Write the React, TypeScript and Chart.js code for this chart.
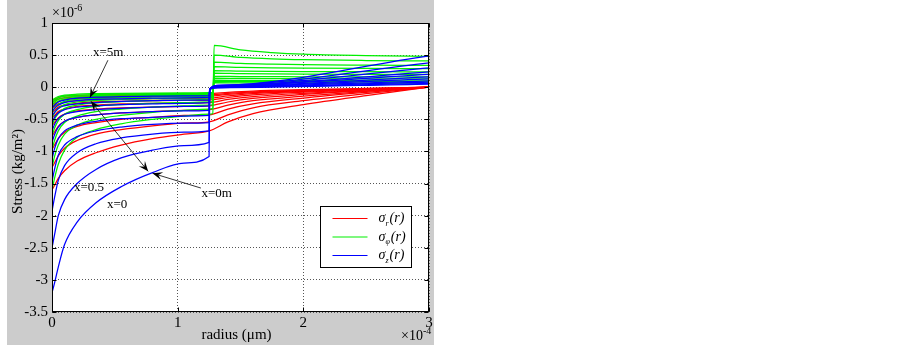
import React, { useEffect, useRef } from 'react';
import { Chart, registerables } from 'chart.js';
Chart.register(...registerables);

// radius in units of 1e-4, stress in units of 1e-6
const innerR = [0, 0.02, 0.05, 0.1, 0.2, 0.35, 0.55, 0.8, 1.05, 1.25];
const redOuterR = [1.4, 1.6, 2.0, 2.5, 3.0];
const greenOuterR = [1.28, 1.29, 1.5, 1.75, 2.0, 2.5, 3.0];
const blueOuterR = [1.255, 1.32, 3.0];

const positionsX = ['0', '0.5', '1', '1.5', '2', '2.5', '3', '3.5', '4', '4.5', '5'];

const redInner = [
  [-1.6, -1.53, -1.42, -1.3, -1.15, -1.02, -0.9, -0.8, -0.73, -0.68],
  [-1.25, -1.18, -1.07, -0.95, -0.83, -0.73, -0.66, -0.6, -0.56, -0.54],
  [-0.97, -0.9, -0.8, -0.7, -0.61, -0.55, -0.5, -0.47, -0.44, -0.43],
  [-0.76, -0.7, -0.61, -0.53, -0.47, -0.43, -0.4, -0.38, -0.36, -0.35],
  [-0.6, -0.55, -0.48, -0.42, -0.37, -0.34, -0.32, -0.31, -0.3, -0.29],
  [-0.48, -0.44, -0.38, -0.34, -0.3, -0.28, -0.26, -0.25, -0.245, -0.24],
  [-0.4, -0.36, -0.31, -0.28, -0.25, -0.23, -0.22, -0.21, -0.205, -0.2],
  [-0.33, -0.3, -0.26, -0.23, -0.21, -0.195, -0.185, -0.178, -0.172, -0.17],
  [-0.28, -0.25, -0.22, -0.19, -0.175, -0.163, -0.155, -0.148, -0.143, -0.14],
  [-0.24, -0.21, -0.185, -0.165, -0.15, -0.14, -0.132, -0.126, -0.122, -0.12],
  [-0.21, -0.185, -0.16, -0.14, -0.127, -0.118, -0.112, -0.107, -0.103, -0.1],
];
const redOuter = [
  [-0.54, -0.41, -0.27, -0.13, 0],
  [-0.43, -0.32, -0.21, -0.1, 0],
  [-0.34, -0.26, -0.17, -0.08, 0],
  [-0.28, -0.21, -0.14, -0.065, 0],
  [-0.23, -0.175, -0.113, -0.055, 0],
  [-0.19, -0.145, -0.094, -0.046, 0],
  [-0.16, -0.12, -0.078, -0.038, 0],
  [-0.136, -0.1, -0.066, -0.032, 0],
  [-0.112, -0.084, -0.055, -0.027, 0],
  [-0.096, -0.072, -0.047, -0.023, 0],
  [-0.08, -0.06, -0.039, -0.019, 0],
];

const greenInner = [
  [-1.6, -1.42, -1.2, -0.98, -0.78, -0.66, -0.57, -0.5, -0.45, -0.42],
  [-1.25, -1.08, -0.9, -0.73, -0.59, -0.5, -0.44, -0.39, -0.36, -0.34],
  [-0.97, -0.83, -0.68, -0.55, -0.45, -0.38, -0.34, -0.31, -0.29, -0.28],
  [-0.76, -0.64, -0.52, -0.42, -0.35, -0.3, -0.27, -0.25, -0.24, -0.23],
  [-0.6, -0.5, -0.41, -0.33, -0.28, -0.245, -0.225, -0.21, -0.2, -0.19],
  [-0.48, -0.4, -0.33, -0.27, -0.23, -0.205, -0.19, -0.178, -0.17, -0.165],
  [-0.4, -0.33, -0.27, -0.22, -0.19, -0.172, -0.16, -0.152, -0.147, -0.143],
  [-0.33, -0.27, -0.22, -0.185, -0.16, -0.147, -0.138, -0.132, -0.128, -0.125],
  [-0.28, -0.23, -0.19, -0.16, -0.14, -0.128, -0.12, -0.115, -0.112, -0.11],
  [-0.24, -0.2, -0.165, -0.14, -0.123, -0.113, -0.106, -0.102, -0.099, -0.097],
  [-0.21, -0.175, -0.145, -0.123, -0.108, -0.1, -0.094, -0.09, -0.088, -0.086],
];
const greenOuter = [
  [-0.41, 0.65, 0.582, 0.54, 0.514, 0.492, 0.48],
  [-0.33, 0.5, 0.464, 0.441, 0.428, 0.416, 0.41],
  [-0.27, 0.39, 0.37, 0.358, 0.35, 0.344, 0.34],
  [-0.22, 0.32, 0.308, 0.3, 0.296, 0.292, 0.29],
  [-0.18, 0.26, 0.252, 0.247, 0.244, 0.241, 0.24],
  [-0.155, 0.22, 0.212, 0.207, 0.204, 0.201, 0.2],
  [-0.135, 0.17, 0.166, 0.164, 0.162, 0.161, 0.16],
  [-0.115, 0.14, 0.136, 0.134, 0.132, 0.131, 0.13],
  [-0.1, 0.11, 0.106, 0.104, 0.102, 0.101, 0.1],
  [-0.09, 0.09, 0.088, 0.087, 0.086, 0.0855, 0.085],
  [-0.08, 0.07, 0.068, 0.067, 0.066, 0.0655, 0.065],
];

const blueInner = [
  [-3.2, -3.05, -2.8, -2.45, -2.1, -1.8, -1.55, -1.33, -1.18, -1.08],
  [-2.5, -2.3, -2.0, -1.75, -1.5, -1.28, -1.1, -0.98, -0.91, -0.86],
  [-1.93, -1.72, -1.45, -1.22, -1.02, -0.88, -0.79, -0.73, -0.7, -0.68],
  [-1.47, -1.28, -1.06, -0.9, -0.77, -0.68, -0.62, -0.58, -0.56, -0.55],
  [-1.12, -0.96, -0.8, -0.68, -0.59, -0.53, -0.49, -0.47, -0.45, -0.44],
  [-0.86, -0.74, -0.62, -0.53, -0.47, -0.43, -0.4, -0.38, -0.37, -0.36],
  [-0.68, -0.58, -0.49, -0.42, -0.38, -0.35, -0.33, -0.31, -0.3, -0.29],
  [-0.55, -0.47, -0.4, -0.35, -0.31, -0.29, -0.27, -0.26, -0.25, -0.24],
  [-0.45, -0.39, -0.33, -0.29, -0.26, -0.24, -0.22, -0.21, -0.2, -0.2],
  [-0.38, -0.33, -0.28, -0.24, -0.21, -0.19, -0.18, -0.17, -0.165, -0.16],
  [-0.32, -0.28, -0.23, -0.2, -0.17, -0.155, -0.145, -0.14, -0.135, -0.13],
];
const blueOuter = [
  [-0.03, 0.03, 0.49],
  [-0.03, 0.03, 0.38],
  [-0.03, 0.025, 0.3],
  [-0.03, 0.02, 0.24],
  [-0.03, 0.02, 0.2],
  [-0.03, 0.015, 0.16],
  [-0.03, 0.01, 0.13],
  [-0.03, 0.005, 0.1],
  [-0.03, 0, 0.08],
  [-0.03, -0.005, 0.06],
  [-0.03, -0.01, 0.05],
];

const xTickValues = [0, 1, 2, 3];
const xTickLabels = ['0', '1', '2', '3'];
const yTickValues = [1, 0.5, 0, -0.5, -1, -1.5, -2, -2.5, -3, -3.5];
const yTickLabels = ['1', '0.5', '0', '-0.5', '-1', '-1.5', '-2', '-2.5', '-3', '-3.5'];

const RED = '#ff0000';
const GREEN = '#00f000';
const BLUE = '#0000ff';
const FONT = "'Liberation Serif', 'Times New Roman', serif";

// annotation anchors in data units (r ×1e-4, stress ×1e-6)
const notes = [
  { text: 'x=5m', r: 0.326, v: 0.545 },
  { text: 'x=0m', r: 1.19, v: -1.66 },
  { text: 'x=0.5', r: 0.175, v: -1.56 },
  { text: 'x=0', r: 0.437, v: -1.82 },
];
const arrows = [
  { r1: 0.445, v1: 0.42, r2: 0.302, v2: -0.16, both: false },
  { r1: 0.765, v1: -1.31, r2: 0.31, v2: -0.22, both: true },
  { r1: 1.185, v1: -1.57, r2: 0.8, v2: -1.34, both: false },
];
const legendItems = [
  { color: RED, sub: 'r' },
  { color: GREEN, sub: 'φ' },
  { color: BLUE, sub: 'z' },
];

function build(inner: number[][], outerR: number[], outer: number[][]) {
  return inner.map((vals, i) => [
    ...innerR.map((r, k) => ({ x: r, y: vals[k] })),
    ...outerR.map((r, k) => ({ x: r, y: outer[i][k] })),
  ]);
}

function drawArrowHead(ctx: CanvasRenderingContext2D, x1: number, y1: number, x2: number, y2: number) {
  const a = Math.atan2(y2 - y1, x2 - x1);
  const L = 10, W = 4;
  const c = Math.cos(a), s = Math.sin(a);
  ctx.beginPath();
  ctx.moveTo(x2, y2);
  ctx.lineTo(x2 - L * c + W * s, y2 - L * s - W * c);
  ctx.lineTo(x2 - 0.6 * L * c, y2 - 0.6 * L * s);
  ctx.lineTo(x2 - L * c - W * s, y2 - L * s + W * c);
  ctx.closePath();
  ctx.fill();
}

const decor = {
  id: 'decor',
  beforeDraw(chart: any) {
    const { ctx, chartArea: ca } = chart;
    ctx.save();
    ctx.fillStyle = '#ffffff';
    ctx.fillRect(0, 0, chart.width, chart.height);
    ctx.fillStyle = '#cccccc';
    ctx.fillRect(7, 0, 427, 345);
    ctx.fillStyle = '#ffffff';
    ctx.fillRect(ca.left, ca.top, ca.right - ca.left, ca.bottom - ca.top);
    ctx.restore();
  },
  afterDraw(chart: any) {
    const { ctx, chartArea: ca } = chart;
    const xs = chart.scales.x, ys = chart.scales.y;
    ctx.save();
    // box
    ctx.strokeStyle = '#000';
    ctx.lineWidth = 1;
    const L = Math.round(ca.left) + 0.5, R = Math.round(ca.right) - 0.5;
    const T = Math.round(ca.top) + 0.5, B = Math.round(ca.bottom) - 0.5;
    ctx.strokeRect(L, T, R - L, B - T);
    // inward ticks
    ctx.beginPath();
    yTickValues.forEach((v) => {
      const y = Math.round(ys.getPixelForValue(v)) + 0.5;
      ctx.moveTo(L, y); ctx.lineTo(L + 4, y);
      ctx.moveTo(R, y); ctx.lineTo(R - 4, y);
    });
    xTickValues.forEach((v) => {
      const x = Math.round(xs.getPixelForValue(v)) + 0.5;
      ctx.moveTo(x, B); ctx.lineTo(x, B - 4);
      ctx.moveTo(x, T); ctx.lineTo(x, T + 4);
    });
    ctx.stroke();

    ctx.fillStyle = '#000';
    // exponent labels
    ctx.textBaseline = 'alphabetic';
    ctx.textAlign = 'left';
    ctx.font = `14px ${FONT}`;
    ctx.fillText('×10', ca.left, 17);
    let w = ctx.measureText('×10').width;
    ctx.font = `10px ${FONT}`;
    ctx.fillText('-6', ca.left + w, 11);
    ctx.font = `14px ${FONT}`;
    ctx.fillText('×10', ca.right - 28, 340);
    w = ctx.measureText('×10').width;
    ctx.font = `10px ${FONT}`;
    ctx.fillText('-4', ca.right - 28 + w, 334);

    // axis titles
    ctx.font = `15px ${FONT}`;
    ctx.textAlign = 'center';
    ctx.textBaseline = 'middle';
    ctx.fillText('radius (μm)', (ca.left + ca.right) / 2 - 4, 335);
    ctx.save();
    ctx.translate(18, (ca.top + ca.bottom) / 2 + 4);
    ctx.rotate(-Math.PI / 2);
    ctx.fillText('Stress (kg/m²)', 0, 0);
    ctx.restore();

    // annotations
    ctx.save();
    ctx.beginPath();
    ctx.rect(ca.left, ca.top, ca.right - ca.left, ca.bottom - ca.top);
    ctx.clip();
    ctx.font = `13px ${FONT}`;
    ctx.textAlign = 'left';
    ctx.textBaseline = 'middle';
    notes.forEach((n) => {
      ctx.fillText(n.text, xs.getPixelForValue(n.r), ys.getPixelForValue(n.v));
    });
    ctx.strokeStyle = '#000';
    ctx.lineWidth = 0.8;
    arrows.forEach((a) => {
      const x1 = xs.getPixelForValue(a.r1), y1 = ys.getPixelForValue(a.v1);
      const x2 = xs.getPixelForValue(a.r2), y2 = ys.getPixelForValue(a.v2);
      ctx.beginPath();
      ctx.moveTo(x1, y1);
      ctx.lineTo(x2, y2);
      ctx.stroke();
      drawArrowHead(ctx, x1, y1, x2, y2);
      if (a.both) drawArrowHead(ctx, x2, y2, x1, y1);
    });
    ctx.restore();

    // legend
    const bx = Math.round(ca.right) - 109 + 0.5;
    const by = Math.round(ca.bottom) - 106 + 0.5;
    const bw = 91, bh = 61;
    ctx.fillStyle = '#fff';
    ctx.fillRect(bx, by, bw, bh);
    ctx.strokeStyle = '#000';
    ctx.lineWidth = 1;
    ctx.strokeRect(bx, by, bw, bh);
    legendItems.forEach((it, i) => {
      const y = by + 12 + i * 18.5;
      ctx.strokeStyle = it.color;
      ctx.lineWidth = 1.2;
      ctx.beginPath();
      ctx.moveTo(bx + 12, y);
      ctx.lineTo(bx + 47, y);
      ctx.stroke();
      ctx.fillStyle = '#000';
      ctx.textAlign = 'left';
      ctx.textBaseline = 'middle';
      let tx = bx + 58;
      ctx.font = `italic 14px ${FONT}`;
      ctx.fillText('σ', tx, y);
      tx += ctx.measureText('σ').width;
      ctx.font = `italic 8px ${FONT}`;
      ctx.fillText(it.sub, tx, y + 5);
      tx += ctx.measureText(it.sub).width + 1;
      ctx.font = `italic 14px ${FONT}`;
      ctx.fillText('(r)', tx, y);
    });
    ctx.restore();
  },
};

export default function App() {
  const ref = useRef<HTMLCanvasElement | null>(null);
  useEffect(() => {
    if (!ref.current) return;
    const reds = build(redInner, redOuterR, redOuter);
    const greens = build(greenInner, greenOuterR, greenOuter);
    const blues = build(blueInner, blueOuterR, blueOuter);
    const mk = (data: any[], color: string, name: string, i: number, order: number) => ({
      label: `${name} x=${positionsX[i]}`,
      data,
      borderColor: color,
      backgroundColor: color,
      borderWidth: 1.25,
      pointRadius: 0,
      fill: false,
      cubicInterpolationMode: 'monotone' as const,
      order,
    });
    const datasets = [
      ...blues.map((d, i) => mk(d, BLUE, 'σz', i, 0)),
      ...greens.map((d, i) => mk(d, GREEN, 'σφ', i, 1)),
      ...reds.map((d, i) => mk(d, RED, 'σr', i, 2)),
    ];
    const tickFont = { family: FONT, size: 15 };
    const chart = new Chart(ref.current, {
      type: 'line',
      data: { datasets },
      options: {
        animation: false,
        responsive: false,
        devicePixelRatio: 1,
        layout: { padding: { left: 0, top: 23, right: 473, bottom: 0 } },
        plugins: { legend: { display: false }, tooltip: { enabled: false } },
        scales: {
          x: {
            type: 'linear',
            min: 0,
            max: 3,
            afterBuildTicks: (s: any) => { s.ticks = xTickValues.map((v) => ({ value: v })); },
            ticks: {
              font: tickFont,
              color: '#000',
              padding: 2,
              maxRotation: 0,
              autoSkip: false,
              callback: (v: any) => xTickLabels[xTickValues.indexOf(Number(v))] ?? '',
            },
            grid: { color: '#555', lineWidth: 1, drawTicks: false },
            border: { display: false, dash: [1, 2] },
            afterFit: (s: any) => { s.height = 35; },
          },
          y: {
            type: 'linear',
            min: -3.5,
            max: 1,
            afterBuildTicks: (s: any) => { s.ticks = yTickValues.map((v) => ({ value: v })); },
            ticks: {
              font: tickFont,
              color: '#000',
              padding: 4,
              autoSkip: false,
              callback: (v: any) => yTickLabels[yTickValues.indexOf(Number(v))] ?? '',
            },
            grid: { color: '#555', lineWidth: 1, drawTicks: false },
            border: { display: false, dash: [1, 2] },
            afterFit: (s: any) => { s.width = 52; },
          },
        },
      },
      plugins: [decor],
    });
    return () => chart.destroy();
  }, []);
  return (
    <div style={{ position: 'absolute', left: 0, top: 0, width: 902, height: 347, background: '#fff' }}>
      <canvas ref={ref} width={902} height={347} style={{ display: 'block', width: 902, height: 347 }} />
    </div>
  );
}
